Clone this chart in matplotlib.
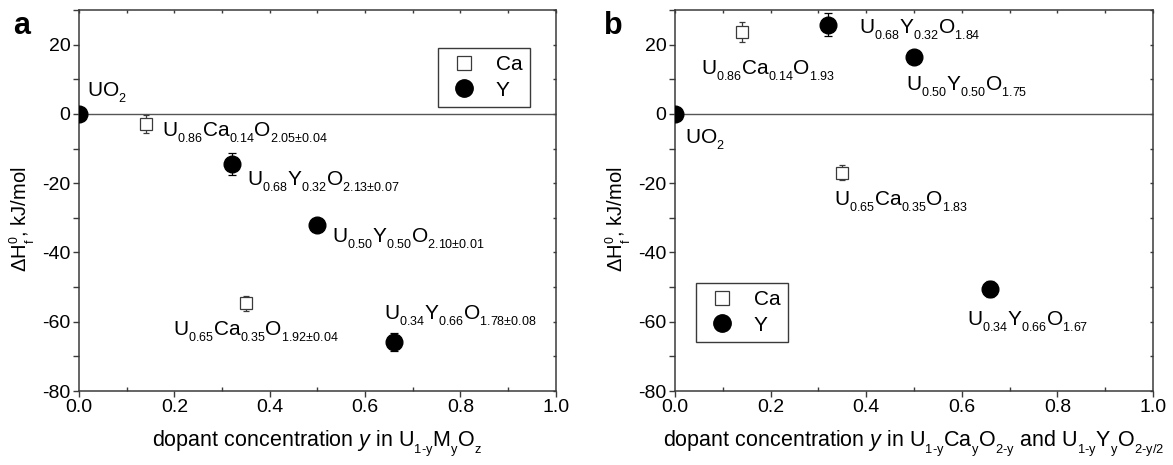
import matplotlib
matplotlib.use('Agg')
import matplotlib.pyplot as plt
import matplotlib._mathtext as mt
from matplotlib.lines import Line2D
from matplotlib.ticker import MultipleLocator

# smaller and lower subscripts, closer to the original figure
mt.SHRINK_FACTOR = 0.6
mt.FontConstantsBase.sub1 = 0.6
mt.FontConstantsBase.sub2 = 0.7

plt.rcParams['font.family'] = ['Liberation Sans', 'DejaVu Sans']
plt.rcParams['mathtext.fontset'] = 'custom'
plt.rcParams['mathtext.rm'] = 'Liberation Sans'
plt.rcParams['mathtext.it'] = 'Liberation Sans:italic'
plt.rcParams['mathtext.bf'] = 'Liberation Sans:bold'

# dopant concentration y
y_ca = [0.0, 0.14, 0.35]
y_y = [0.0, 0.32, 0.50, 0.66]

# panel a: enthalpy of formation from oxides, kJ/mol
a_ca = [0.0, -2.8, -54.7]
a_ca_err = [0.8, 2.6, 2.1]
a_y = [0.0, -14.5, -32.2, -65.8]
a_y_err = [0.5, 3.1, 1.0, 2.7]

# panel b
b_ca = [0.0, 23.6, -17.0]
b_ca_err = [0.8, 2.9, 2.2]
b_y = [0.0, 25.7, 16.3, -50.5]
b_y_err = [0.5, 3.3, 1.0, 2.4]

ca_xerr = [0.006, 0.01, 0.007]

labels_a = [
    (0.017, 5.0, r'$\mathregular{UO_2}$'),
    (0.174, -6.6, r'$\mathregular{U_{0.86}Ca_{0.14}O_{2.05{\pm}0.04}}$'),
    (0.352, -20.5, r'$\mathregular{U_{0.68}Y_{0.32}O_{2.13{\pm}0.07}}$'),
    (0.530, -37.1, r'$\mathregular{U_{0.50}Y_{0.50}O_{2.10{\pm}0.01}}$'),
    (0.198, -63.9, r'$\mathregular{U_{0.65}Ca_{0.35}O_{1.92{\pm}0.04}}$'),
    (0.639, -59.4, r'$\mathregular{U_{0.34}Y_{0.66}O_{1.78{\pm}0.08}}$'),
]
labels_b = [
    (0.054, 11.3, r'$\mathregular{U_{0.86}Ca_{0.14}O_{1.93}}$'),
    (0.386, 23.3, r'$\mathregular{U_{0.68}Y_{0.32}O_{1.84}}$'),
    (0.483, 6.7, r'$\mathregular{U_{0.50}Y_{0.50}O_{1.75}}$'),
    (0.021, -8.5, r'$\mathregular{UO_2}$'),
    (0.333, -26.4, r'$\mathregular{U_{0.65}Ca_{0.35}O_{1.83}}$'),
    (0.612, -61.0, r'$\mathregular{U_{0.34}Y_{0.66}O_{1.67}}$'),
]

fig = plt.figure(figsize=(11.73, 4.65), dpi=100)
axa = fig.add_axes([0.0673, 0.159, 0.4066, 0.8195])
axb = fig.add_axes([0.5754, 0.159, 0.4075, 0.8195])

edge = '#3a3a3a'


def draw(ax, ca, ca_err, yy, yy_err, labels, xlabel, leg_kw):
    ax.axhline(0, color='#555555', lw=1.0, zorder=1)
    ax.errorbar(y_ca, ca, yerr=ca_err, xerr=ca_xerr, fmt='s', ms=8.5, mfc='white',
                mec=edge, mew=0.9, ecolor=edge, elinewidth=0.9,
                capsize=2.5, capthick=0.9, zorder=3)
    ax.errorbar(y_y, yy, yerr=yy_err, fmt='o', ms=12, mfc='black', mec='black',
                ecolor='black', elinewidth=0.9, capsize=3, capthick=0.9, zorder=4)
    for x, y, t in labels:
        ax.text(x, y, t, fontsize=15, ha='left', va='baseline')
    ax.set_xlim(0, 1.0)
    ax.set_ylim(-80, 30)
    ax.xaxis.set_major_locator(MultipleLocator(0.2))
    ax.xaxis.set_minor_locator(MultipleLocator(0.1))
    ax.yaxis.set_major_locator(MultipleLocator(20))
    ax.yaxis.set_minor_locator(MultipleLocator(10))
    ax.xaxis.set_major_formatter(plt.FuncFormatter(lambda v, p: '%.1f' % v))
    ax.yaxis.set_major_formatter(plt.FuncFormatter(lambda v, p: '%d' % v))
    ax.tick_params(axis='x', which='major', direction='out', length=4, width=1,
                   color=edge, labelsize=14, pad=2)
    ax.tick_params(axis='x', which='minor', direction='in', length=3, width=1, color=edge)
    ax.tick_params(axis='y', which='both', direction='out', length=4, width=1,
                   color=edge, labelsize=14, pad=2)
    sx = ax.secondary_xaxis('top')
    sx.xaxis.set_major_locator(MultipleLocator(0.1))
    sx.tick_params(direction='in', length=2.5, width=1, color=edge, labeltop=False)
    sx.spines['top'].set_visible(False)
    sy = ax.secondary_yaxis('right')
    sy.yaxis.set_major_locator(MultipleLocator(10))
    sy.tick_params(direction='in', length=2.5, width=1, color=edge, labelright=False)
    sy.spines['right'].set_visible(False)
    for s in ax.spines.values():
        s.set_linewidth(1.1)
        s.set_color(edge)
    ax.set_xlabel(xlabel, fontsize=15.5, labelpad=9)
    ax.set_ylabel(r'$\mathregular{\Delta H_f^0}$, kJ/mol', fontsize=14.5)
    ax.yaxis.set_label_coords(-0.088, 0.45)
    handles = [Line2D([], [], ls='none', marker='s', ms=10, mfc='white', mec=edge, mew=0.9),
               Line2D([], [], ls='none', marker='o', ms=12.5, mfc='black', mec='black')]
    leg = ax.legend(handles, ['Ca', 'Y'], handletextpad=0.6, fontsize=15, fancybox=False,
                    edgecolor=edge, framealpha=1, borderpad=0.35, labelspacing=0.3,
                    handlelength=1.8, borderaxespad=0, **leg_kw)
    leg.get_frame().set_linewidth(1.0)


draw(axa, a_ca, a_ca_err, a_y, a_y_err, labels_a,
     r'dopant concentration $\it{y}$ in $\mathregular{U_{1\text{-}y}M_yO_z}$',
     dict(loc='upper right', bbox_to_anchor=(0.945, 0.900)))
draw(axb, b_ca, b_ca_err, b_y, b_y_err, labels_b,
     r'dopant concentration $\it{y}$ in $\mathregular{U_{1\text{-}y}Ca_yO_{2\text{-}y}}$ and $\mathregular{U_{1\text{-}y}Y_yO_{2\text{-}y/2}}$',
     dict(loc='lower left', bbox_to_anchor=(0.045, 0.129)))

fig.text(0.011, 0.927, 'a', fontsize=22, fontweight='bold')
fig.text(0.515, 0.927, 'b', fontsize=22, fontweight='bold')

fig.savefig('out.png', dpi=100)
